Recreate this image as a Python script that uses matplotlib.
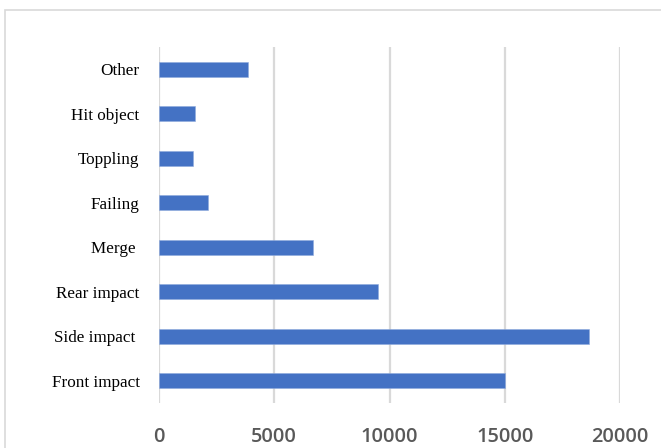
import matplotlib
matplotlib.use("Agg")
import matplotlib.pyplot as plt
from matplotlib.patches import Rectangle

categories = ["Front impact", "Side impact ", "Rear impact", "Merge ",
              "Failing", "Toppling", "Hit object", "Other"]
counts = [15000, 18650, 9480, 6680, 2140, 1490, 1580, 3850]
xticks = [0, 5000, 10000, 15000, 20000]

fig = plt.figure(figsize=(6.61, 4.48), dpi=100)
ax = fig.add_axes([159 / 661, 1 - 403 / 448, (620 - 159) / 661, (403 - 47) / 448])

ax.barh(range(len(categories)), counts, height=0.345, color="#4472C4",
        edgecolor="#8FAADC", linewidth=0.4, zorder=3)

ax.set_xlim(0, 20000)
ax.set_ylim(-0.5, len(categories) - 0.5)
ax.set_xticks(xticks)
ax.set_xticklabels([str(t) for t in xticks], fontsize=14.4, color="#595959",
                   family="Open Sans", fontweight="semibold")
ax.set_yticks(range(len(categories)))
ax.set_yticklabels(categories, fontsize=12.3, color="black",
                   family="Liberation Serif")
ax.tick_params(axis="x", length=0, pad=17.5)
ax.tick_params(axis="y", length=0, pad=14)

ax.grid(axis="x", color="#D9D9D9", linewidth=1.6, zorder=0)
for side in ["top", "right", "bottom", "left"]:
    ax.spines[side].set_visible(False)

# light frame around the chart area, running off the right and bottom edges
fig.patches.append(Rectangle((5 / 661, -0.1), 1.2, 1.1 - 10 / 448,
                             transform=fig.transFigure, fill=False,
                             edgecolor="#D9D9D9", linewidth=1.2))

fig.savefig("out.png", dpi=100)
